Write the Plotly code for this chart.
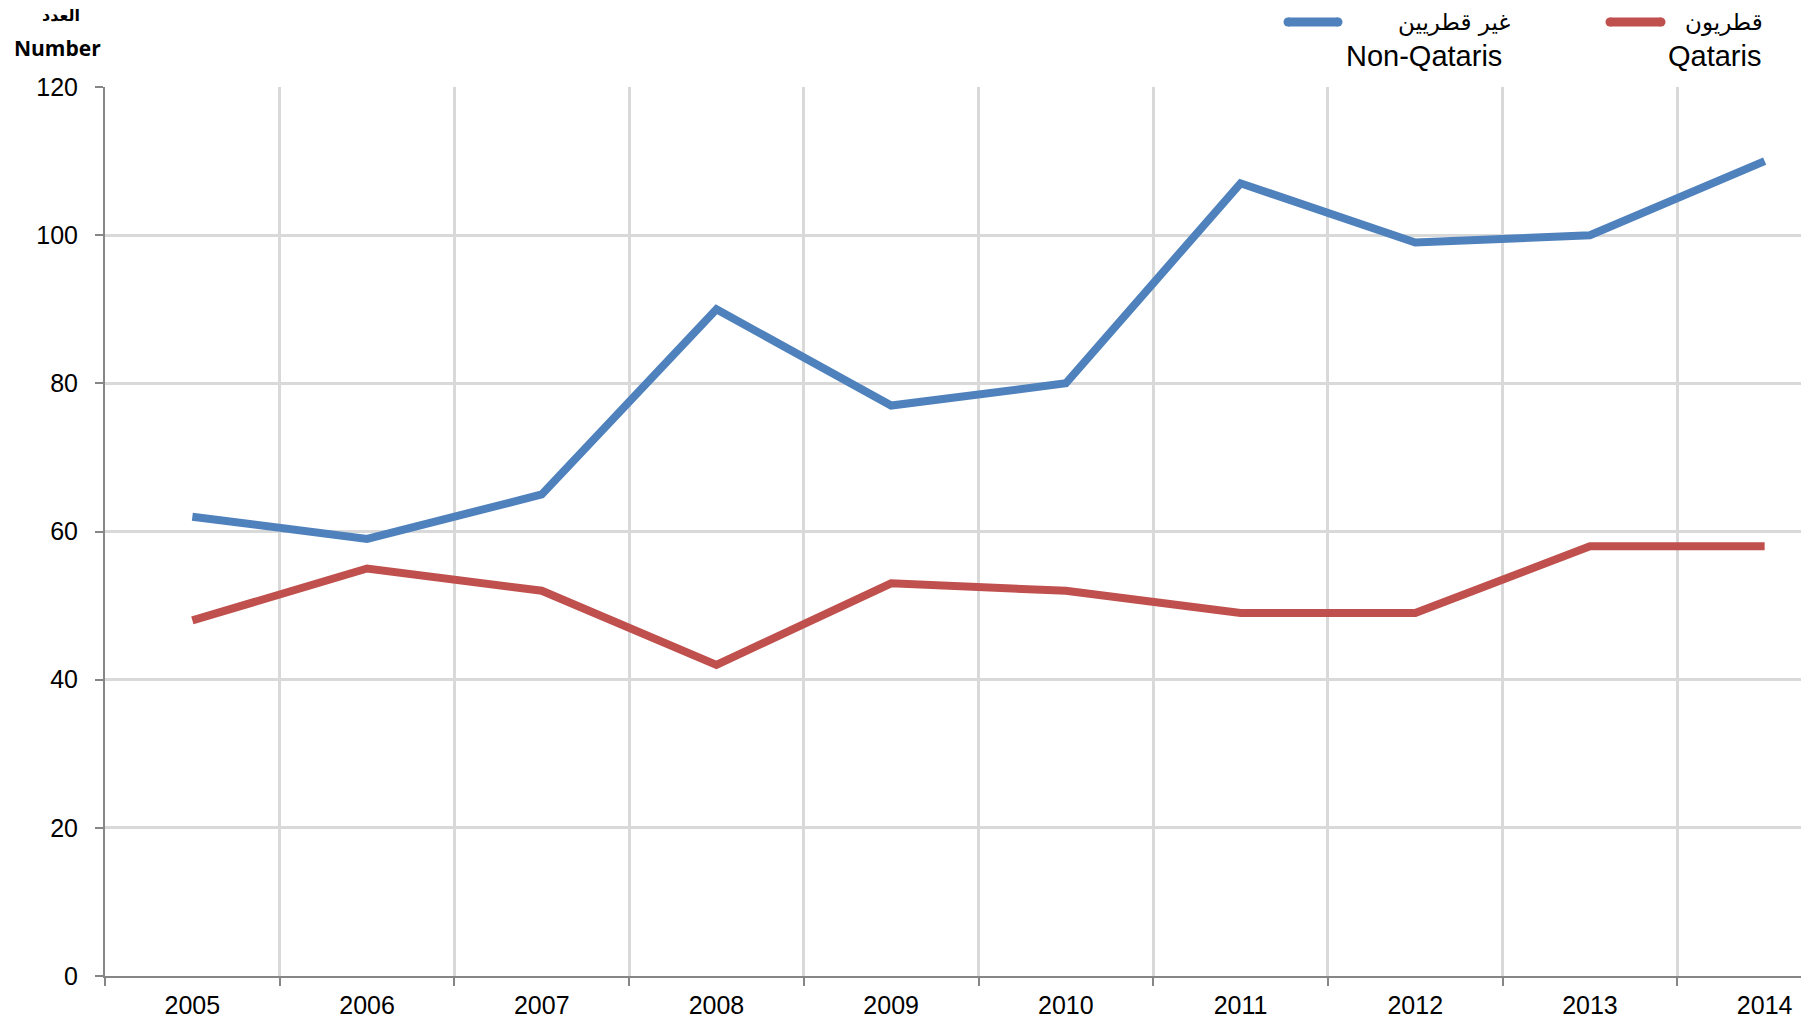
import plotly.graph_objects as go

years = ["2005", "2006", "2007", "2008", "2009", "2010", "2011", "2012", "2013", "2014"]
non_qataris = [62, 59, 65, 90, 77, 80, 107, 99, 100, 110]
qataris = [48, 55, 52, 42, 53, 52, 49, 49, 58, 58]
y_ticks = [0, 20, 40, 60, 80, 100, 120]

BLUE = "#4F81BD"
RED = "#C0504D"
GRID = "#D9D9D9"
AXIS = "#868686"

W, H = 1801, 1025
# plot area in page pixels: left 105, top 87, bottom 976, right = page edge
L, T = 105, 87
B = H - 976
R = 0
PW, PH = W - L - R, H - T - B
CAT = 174.7  # width of one category band in the reference, px


def px(x):
    return (x - L) / PW


def py(y):
    return (H - B - y) / PH


fig = go.Figure()
fig.add_trace(go.Scatter(x=years, y=non_qataris, mode="lines", name="Non-Qataris",
                         line=dict(color=BLUE, width=8), showlegend=False))
fig.add_trace(go.Scatter(x=years, y=qataris, mode="lines", name="Qataris",
                         line=dict(color=RED, width=8), showlegend=False))

font = dict(family="Liberation Sans, Arial, DejaVu Sans", size=25, color="#000000")
legfont = dict(family="Liberation Sans, Arial, DejaVu Sans", size=29, color="#000000")
arfont = dict(family="DejaVu Sans, Arial", size=23, color="#000000")

x_hi = 9.5 - (L + len(years) * CAT - W) / CAT

fig.update_layout(
    width=W, height=H,
    margin=dict(l=L, r=R, t=T, b=B, pad=0, autoexpand=False),
    paper_bgcolor="white", plot_bgcolor="white",
    font=font,
    showlegend=False,
    xaxis=dict(
        type="category", range=[-0.5, x_hi], tickson="boundaries",
        showgrid=True, gridcolor=GRID, gridwidth=3,
        showline=True, linecolor=AXIS, linewidth=2,
        ticks="outside", ticklen=8, tickcolor=AXIS, tickwidth=2,
        tickfont=font, zeroline=False, ticklabelstandoff=6,
    ),
    yaxis=dict(
        range=[0, 120], tickvals=y_ticks,
        showgrid=True, gridcolor=GRID, gridwidth=3,
        showline=True, linecolor=AXIS, linewidth=2,
        ticks="outside", ticklen=8, tickcolor=AXIS, tickwidth=2,
        tickfont=font, zeroline=False, ticklabelstandoff=12,
    ),
)

# Y-axis title (Arabic + English)
fig.add_annotation(text="<b>العدد</b>", xref="paper", yref="paper", x=px(61), y=py(16),
                   xanchor="center", yanchor="middle",
                   showarrow=False, font=dict(family="DejaVu Sans, Arial", size=16, color="#000"))
fig.add_annotation(text="<b>Number</b>", xref="paper", yref="paper", x=px(57), y=py(48),
                   xanchor="center", yanchor="middle",
                   showarrow=False, font=dict(family="Open Sans, Arial", size=21, color="#000"))


# Legend (custom layout: line key, Arabic name beside it, English name below)
def legend_key(x0, x1, y, color):
    fig.add_shape(type="line", xref="paper", yref="paper", x0=px(x0), x1=px(x1), y0=py(y), y1=py(y),
                  line=dict(color=color, width=9))
    for xc in (x0, x1):
        fig.add_shape(type="circle", xref="paper", yref="paper", xsizemode="pixel", ysizemode="pixel",
                      xanchor=px(xc), yanchor=py(y), x0=-4.5, x1=4.5, y0=-4.5, y1=4.5,
                      fillcolor=color, line=dict(width=0))


legend_key(1288, 1338, 22, BLUE)
legend_key(1610, 1661, 22, RED)
fig.add_annotation(text="غير قطريين", xref="paper", yref="paper", x=px(1512), y=py(23),
                   xanchor="right", yanchor="middle", showarrow=False, font=arfont)
fig.add_annotation(text="Non-Qataris", xref="paper", yref="paper", x=px(1344), y=py(56),
                   xanchor="left", yanchor="middle", showarrow=False, font=legfont)
fig.add_annotation(text="قطريون", xref="paper", yref="paper", x=px(1765), y=py(23),
                   xanchor="right", yanchor="middle", showarrow=False, font=arfont)
fig.add_annotation(text="Qataris", xref="paper", yref="paper", x=px(1666), y=py(56),
                   xanchor="left", yanchor="middle", showarrow=False, font=legfont)

fig.write_html(
    "out.html",
    config={"displayModeBar": False},
    post_script="document.body.style.margin='0';document.body.style.overflow='hidden';",
)
